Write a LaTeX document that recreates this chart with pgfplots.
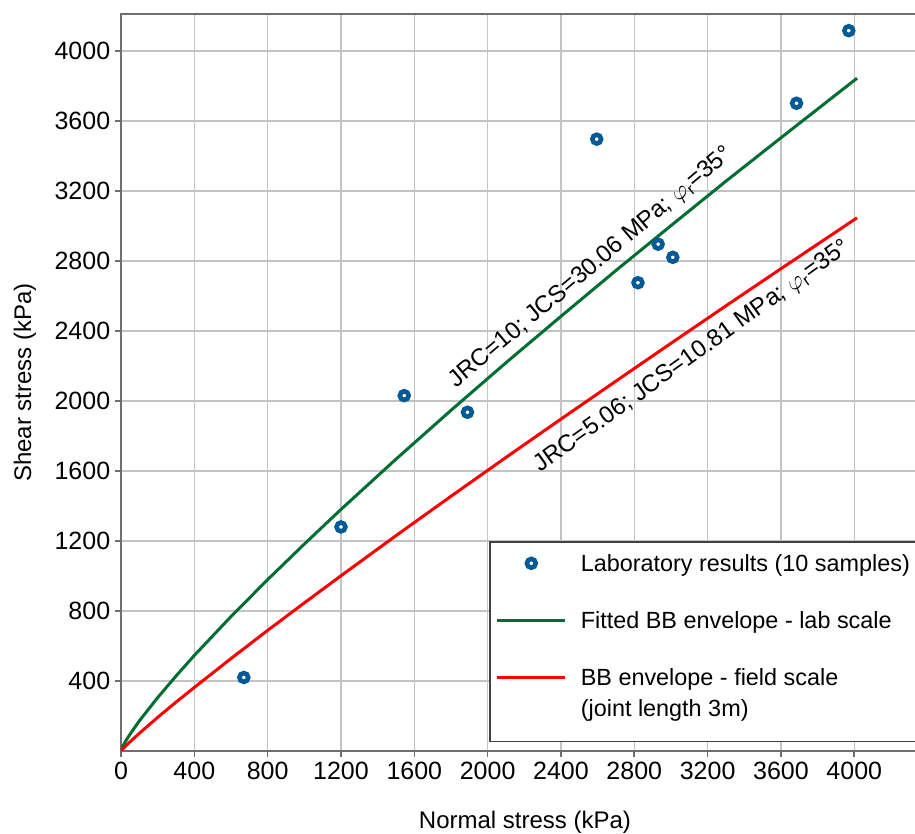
\documentclass[border=0pt]{standalone}
\usepackage{fontspec}
\setmainfont{Liberation Sans}
\usepackage{pgfplots}
\pgfplotsset{compat=1.18}
\definecolor{labblue}{RGB}{0,90,150}
\definecolor{labgreen}{RGB}{0,110,50}
\definecolor{fieldred}{RGB}{250,0,0}
\definecolor{gridgray}{RGB}{195,195,195}
\definecolor{axgray}{RGB}{110,110,110}
\pgfplotsset{
  legline/.style={legend image code/.code={\draw[##1] (0pt,4.2pt) -- (34pt,4.2pt);}},
  legmark/.style={legend image code/.code={\draw[mark repeat=2,mark phase=2,##1] plot coordinates {(0pt,4.2pt)(17pt,4.2pt)(34pt,4.2pt)};}},
}

\begin{document}
\begin{tikzpicture}
\useasboundingbox (-60.5pt,-41.5pt) rectangle (397pt,375.5pt);
\begin{axis}[
  scale only axis, width=400pt, height=368.5pt,
  xmin=0, xmax=4364, ymin=0, ymax=4210,
  xtick={0,400,...,4000}, ytick={400,800,...,4000},
  grid=major, grid style={gridgray, line width=0.75pt},
  axis line style={axgray, line width=0.8pt},
  tick style={axgray, line width=0.8pt},
  tick align=outside, tick pos=left, major tick length=3pt,
  /pgf/number format/.cd, 1000 sep={}, assume math mode=true, /pgfplots/.cd,
  ticklabel style={font=\fontsize{12.5}{14}\selectfont},
  yticklabel style={inner sep=2.2pt},
  xticklabel style={inner sep=2.5pt},
  label style={font=\fontsize{12}{14}\selectfont},
  xlabel={Normal stress (kPa)},
  ylabel={Shear stress (kPa)},
  xlabel style={at={(axis description cs:0.505,-0.0963)}, anchor=center},
  ylabel style={at={(axis description cs:-0.12,0.5)}, anchor=center},
  legend style={at={(rel axis cs:0.46,0.285)}, anchor=north west,
    draw=axgray!60!black, line width=0.8pt, fill=white,
    font=\fontsize{11.7}{15.5}\selectfont,
    inner xsep=3pt, inner ysep=6.5pt, row sep=18.5pt,
    /tikz/every odd column/.append style={column sep=7pt},
    cells={anchor=base west},
    nodes={inner sep=0pt}},
]
% laboratory results
\addplot[only marks, mark=*, mark size=2.2pt, draw=labblue, fill=white, line width=2.3pt, legmark]
  coordinates {
  (670,420) (1200,1280) (1545,2030) (1890,1935) (2595,3495)
  (2820,2675) (2930,2895) (3010,2820) (3685,3700) (3970,4115)
};
\addlegendentry{Laboratory results (10 samples)}

% JRC=10, JCS=30.06 MPa
\addplot[labgreen, line width=1.5pt, legline]
  coordinates {
  (0,0) (10,27) (25,56) (50,97) (100,172) (200,305) (300,428) (400,546)
  (600,768) (800,979) (1000,1182) (1200,1380) (1500,1667) (1800,1946)
  (2100,2218) (2400,2483) (2700,2745) (3000,3001) (3300,3255)
  (3600,3503) (3900,3749) (4015,3843)
};
\addlegendentry{Fitted BB envelope - lab scale}

% JRC=5.06, JCS=10.81 MPa
\addplot[fieldred, line width=1.5pt, legline]
  coordinates {
  (0,0) (10,12) (25,28) (50,53) (100,101) (200,192) (300,279) (400,363)
  (600,528) (800,689) (1000,846) (1200,1001) (1500,1230) (1800,1455)
  (2100,1677) (2400,1896) (2700,2113) (3000,2329) (3300,2543)
  (3600,2755) (3900,2965) (4015,3046)
};
\addlegendentry{\vtop{\hbox{BB envelope - field scale}\hbox{(joint length 3m)}}}
% spacer row for the second line of the last entry
\addlegendimage{empty legend}
\addlegendentry{\raisebox{0pt}[0pt][0pt]{}}

\node[rotate=40, font=\fontsize{12}{14}\selectfont] at (axis cs:2564,2760)
  {JRC=10; JCS=30.06 MPa; $\varphi_{\mathrm{r}}$=35°};
\node[rotate=35.5, font=\fontsize{12}{14}\selectfont] at (axis cs:3118,2254)
  {JRC=5.06; JCS=10.81 MPa; $\varphi_{\mathrm{r}}$=35°};
\end{axis}
\end{tikzpicture}
\end{document}
